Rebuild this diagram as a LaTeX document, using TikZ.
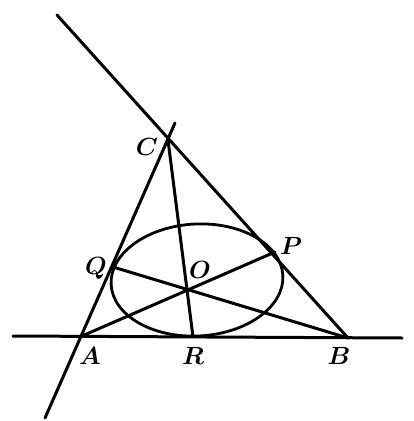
\documentclass[tikz,border=0pt]{standalone}
\usepackage{amsmath}
\usepackage{tikz}

\begin{document}
\begin{tikzpicture}[x=1pt,y=-1pt,line width=3pt,line cap=round,
  font=\fontsize{24}{28}\selectfont\boldmath]
\useasboundingbox (0,0) rectangle (414,421);

% the points
\coordinate (top) at (57,15);
\coordinate (C) at (168,140);
\coordinate (B) at (348,338);
\coordinate (upper) at (175,123);
\coordinate (A) at (82,336);
\coordinate (lower) at (45,418);
\coordinate (left) at (13,336);
\coordinate (right) at (402,338);
\coordinate (R) at (193,337);
\coordinate (P) at (275,252);
\coordinate (Q) at (113,267);
\coordinate (O) at (187,290);

% the conic
\draw[line width=2.8pt,rotate around={3:(197,280)}] (197,280) ellipse (86 and 56);

\path (top) edge (B);
\path (upper) edge (lower);
\path (left) edge (right);
\path (C) edge (R);
\path (A) edge (P);
\path (Q) edge (B);

\node (labC) at (147,147) {$C$};
\node (labQ) at (96,268) {$Q$};
\node (labO) at (200,270) {$O$};
\node (labP) at (291,246) {$P$};
\node (labA) at (90,356) {$A$};
\node (labR) at (193,356) {$R$};
\node (labB) at (339,356) {$B$};

\end{tikzpicture}
\end{document}
